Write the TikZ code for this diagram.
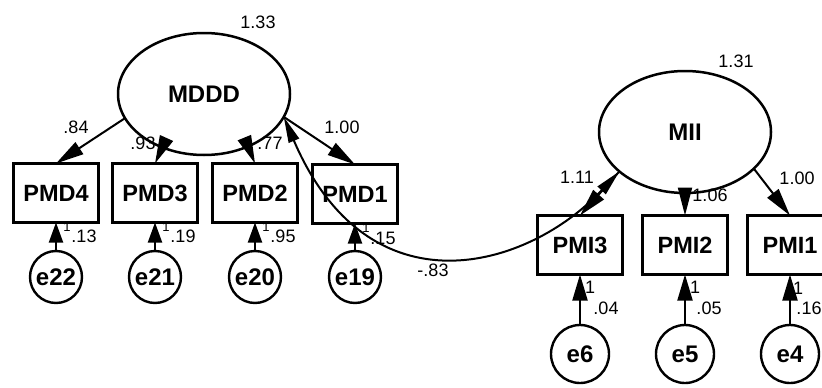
\documentclass[tikz,border=0pt]{standalone}
\usepackage{fontspec}
\setmainfont{Liberation Sans}
\usetikzlibrary{shapes.geometric,arrows.meta}

\tikzset{
  latent/.style={ellipse, draw, line width=2.5pt, minimum width=172pt, minimum height=122pt,
    inner sep=0pt, outer sep=0pt, font=\bfseries\fontsize{24}{24}\selectfont},
  observed/.style={rectangle, draw, line width=2.4pt, minimum width=85pt, minimum height=59pt,
    inner sep=0pt, outer sep=0pt, font=\bfseries\fontsize{23.5}{24}\selectfont},
  errsmall/.style={circle, draw, line width=2.4pt, minimum size=52pt, inner sep=0pt, outer sep=0pt,
    font=\bfseries\fontsize{24}{24}\selectfont},
  errbig/.style={errsmall, minimum size=58pt},
  num/.style={inner sep=0pt, font=\fontsize{18}{18}\selectfont},
  one/.style={inner sep=0pt, font=\fontsize{13}{13}\selectfont},
  loading/.style={line width=2pt, -{Triangle[length=28pt,width=14pt]}},
  errshort/.style={line width=2pt, -{Triangle[length=20pt,width=14pt]}},
  errlong/.style={line width=2pt, -{Triangle[length=26pt,width=15pt]}},
  covpath/.style={line width=2pt,
    {Triangle[length=26pt,width=11pt]}-{Triangle[length=26pt,width=11pt]}}
}

\begin{document}
\begin{tikzpicture}[x=1pt, y=-1pt]
  \useasboundingbox (0,0) rectangle (822,388);

  % latent factors
  \node[latent] (MDDD) at (204,94) {MDDD};
  \node[latent] (MII) at (685,132) {MII};

  % indicators of MDDD
  \node[observed] (PMD4) at (56,193) {PMD4};
  \node[observed] (PMD3) at (155,193) {PMD3};
  \node[observed] (PMD2) at (255,193) {PMD2};
  \node[observed] (PMD1) at (355,194) {PMD1};

  % indicators of MII
  \node[observed] (PMI3) at (580,245) {PMI3};
  \node[observed] (PMI2) at (685,245) {PMI2};
  \node[observed] (PMI1) at (790,245) {PMI1};

  % error terms
  \node[errsmall] (e22) at (56,277) {e22};
  \node[errsmall] (e21) at (155,277) {e21};
  \node[errsmall] (e20) at (255,277) {e20};
  \node[errsmall] (e19) at (355,277) {e19};
  \node[errbig] (e6) at (580,354) {e6};
  \node[errbig] (e5) at (685,354) {e5};
  \node[errbig] (e4) at (790,354) {e4};

  % factor loadings
  \draw[loading] (MDDD.197) -- (PMD4.north);
  \draw[loading] (MDDD.232) -- (PMD3.north);
  \draw[loading] (MDDD.-50) -- (PMD2.north);
  \draw[loading] (MDDD.-16) -- (PMD1.north);
  \draw[loading] (MII.211) -- (PMI3.north);
  \draw[loading] (MII.south) -- (PMI2.north);
  \draw[loading] (MII.-28.5) -- (PMI1.north);

  % error paths
  \draw[errshort] (e22) -- (PMD4.south);
  \draw[errshort] (e21) -- (PMD3.south);
  \draw[errshort] (e20) -- (PMD2.south);
  \draw[errshort] (e19) -- (PMD1.south);
  \draw[errlong] (e6) -- (PMI3.south);
  \draw[errlong] (e5) -- (PMI2.south);
  \draw[errlong] (e4) -- (PMI1.south);

  % factor covariance
  \draw[covpath] (MDDD.-16) .. controls (369,316) and (528,269) .. (MII.211);

  % variances
  \node[num] (vMDDD) at (258,22) {1.33};
  \node[num] (vMII) at (736,61) {1.31};

  % loading estimates
  \node[num] (l84) at (76,127) {.84};
  \node[num] (l93) at (143,143) {.93};
  \node[num] (l77) at (270,143) {.77};
  \node[num] (l100a) at (342,127) {1.00};
  \node[num] (l111) at (577,177) {1.11};
  \node[num] (l106) at (710,195) {1.06};
  \node[num] (l100b) at (797,178) {1.00};
  \node[num] (cov) at (433,270) {-.83};

  % error variances and fixed paths
  \node[one] (o22) at (67,227) {1};
  \node[num] (v22) at (84,236) {.13};
  \node[one] (o21) at (166,227) {1};
  \node[num] (v21) at (183,236) {.19};
  \node[one] (o20) at (266,227) {1};
  \node[num] (v20) at (283,236) {.95};
  \node[one] (o19) at (366,228) {1};
  \node[num] (v19) at (383,238) {.15};
  \node[num] (o6) at (590,287) {1};
  \node[num] (v6) at (606,308) {.04};
  \node[num] (o5) at (695,287) {1};
  \node[num] (v5) at (709,308) {.05};
  \node[num] (o4) at (798,288) {1};
  \node[num] (v4) at (809,308) {.16};
\end{tikzpicture}
\end{document}
